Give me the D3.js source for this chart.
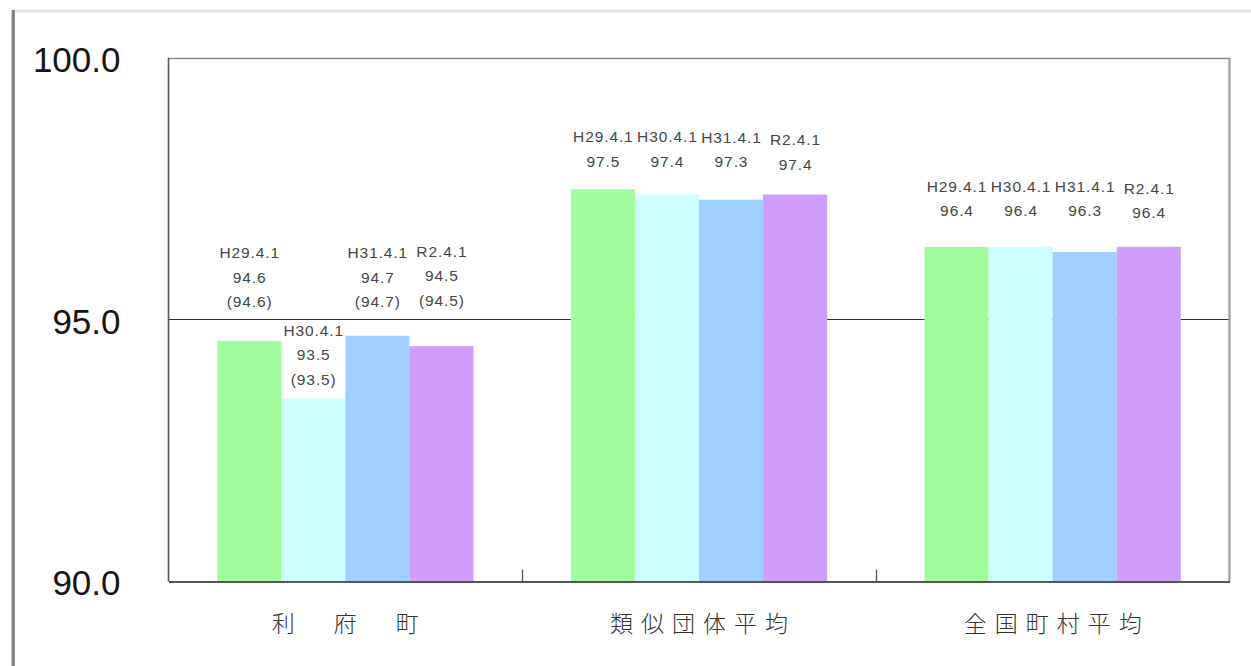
<!DOCTYPE html>
<html>
<head>
<meta charset="utf-8">
<script src="https://cdn.jsdelivr.net/npm/d3@7"></script>
<style>
  html, body { margin: 0; padding: 0; background: #fff; }
  svg { display: block; }
</style>
</head>
<body>
<svg id="chart" width="1251" height="666"></svg>
<script>
// Categories along the horizontal axis
const categories = ["利　府　町", "類似団体平均", "全国町村平均"];
// Survey dates (one bar per date within each category)
const seriesNames = ["H29.4.1", "H30.4.1", "H31.4.1", "R2.4.1"];
// Values per category, in series order
const rifuValues = [94.6, 93.5, 94.7, 94.5];
const rifuParenValues = [94.6, 93.5, 94.7, 94.5];
const ruijiValues = [97.5, 97.4, 97.3, 97.4];
const zenkokuValues = [96.4, 96.4, 96.3, 96.4];
// Axis tick values
const yTicks = [90, 95, 100];

const valuesByCategory = [rifuValues, ruijiValues, zenkokuValues];
const parenByCategory = [rifuParenValues, null, null];

// Colours for each series
const colors = ["#a0fc9c", "#ccffff", "#9ecfff", "#d09cfd"];
// Distance (px) from a bar's top to the centre of its first label line
const labelLift = [
  [88, 68, 83, 95],
  [52.5, 57.5, 62.5, 54.5],
  [60.5, 60.5, 66, 58.5]
];

const svg = d3.select("#chart");
const plot = { left: 168.5, right: 1229.5, top: 58.5, bottom: 581.5 };

const y = d3.scaleLinear().domain([90, 100]).range([plot.bottom, plot.top]);
const x = d3.scaleBand().domain(categories).range([plot.left, plot.right]).padding(0);
const xs = d3.scaleBand().domain(seriesNames)
  .range([0, x.bandwidth()]).paddingInner(0).paddingOuter(0.76);

// Outer panel frame with a soft edge
const defs = svg.append("defs");
defs.append("filter").attr("id", "soft")
  .attr("filterUnits", "userSpaceOnUse")
  .attr("x", 0).attr("y", 0).attr("width", 1251).attr("height", 666)
  .append("feGaussianBlur").attr("stdDeviation", 0.7);

const frame = svg.append("g").attr("filter", "url(#soft)");
frame.append("rect")
  .attr("x", 13).attr("y", 9.5).attr("width", 1238).attr("height", 3)
  .attr("fill", "#e2e2e2");
frame.append("rect")
  .attr("x", 11.5).attr("y", 10).attr("width", 3.5).attr("height", 656)
  .attr("fill", "#9a9a9a");
frame.append("rect")
  .attr("x", 12.5).attr("y", 10).attr("width", 1.6).attr("height", 656)
  .attr("fill", "#7a7a7a");

// Reference line at 95.0
svg.append("line")
  .attr("x1", plot.left).attr("x2", plot.right)
  .attr("y1", Math.round(y(95)) - 0.5).attr("y2", Math.round(y(95)) - 0.5)
  .attr("stroke", "#333").attr("stroke-width", 1.2);

// Bars
const groups = svg.append("g").selectAll("g")
  .data(categories.map((c, i) => ({ c, i })))
  .join("g")
  .attr("transform", d => `translate(${x(d.c)},0)`);

groups.selectAll("rect")
  .data(d => seriesNames.map((s, j) => ({ s, j, v: valuesByCategory[d.i][j] })))
  .join("rect")
  .attr("x", d => xs(d.s))
  .attr("width", xs.bandwidth())
  .attr("y", d => y(d.v))
  .attr("height", d => y(90) - y(d.v))
  .attr("fill", d => colors[d.j]);

// Value labels above the bars
const lineGap = 24.5;
groups.each(function (g) {
  const grp = d3.select(this);
  seriesNames.forEach((s, j) => {
    const v = valuesByCategory[g.i][j];
    const lines = [s, v.toFixed(1)];
    if (parenByCategory[g.i]) lines.push("(" + parenByCategory[g.i][j].toFixed(1) + ")");
    const cx = xs(s) + xs.bandwidth() / 2;
    const firstY = y(v) - labelLift[g.i][j];
    grp.append("text")
      .attr("text-anchor", "middle")
      .attr("font-family", "'Liberation Sans', Arial, sans-serif")
      .attr("font-size", 15.5)
      .attr("letter-spacing", "0.9px")
      .attr("fill", "#444")
      .selectAll("tspan")
      .data(lines)
      .join("tspan")
      .attr("x", cx + 0.45)
      .attr("y", (d, k) => firstY + k * lineGap + 5.5)
      .text(d => d);
  });
});

// Plot frame
svg.append("line").attr("x1", plot.left).attr("x2", plot.right)
  .attr("y1", plot.top).attr("y2", plot.top)
  .attr("stroke", "#8a8a8a").attr("stroke-width", 1.6);
svg.append("line").attr("x1", plot.right).attr("x2", plot.right)
  .attr("y1", plot.top - 0.8).attr("y2", plot.bottom)
  .attr("stroke", "#9a9a9a").attr("stroke-width", 2.2);
svg.append("line").attr("x1", plot.left).attr("x2", plot.left)
  .attr("y1", plot.top - 0.8).attr("y2", plot.bottom)
  .attr("stroke", "#555").attr("stroke-width", 1.6);

// Horizontal axis with category names; ticks mark the category boundaries
const xAxis = svg.append("g")
  .attr("transform", `translate(0,${plot.bottom})`)
  .call(d3.axisBottom(x).tickSize(0).tickPadding(0));
xAxis.select(".domain")
  .attr("stroke", "#555").attr("stroke-width", 2);
xAxis.selectAll(".tick text")
  .attr("font-family", "'Noto Sans CJK JP', sans-serif")
  .attr("font-weight", 300)
  .attr("font-size", 23)
  .attr("letter-spacing", "8px")
  .attr("fill", "#333")
  .attr("dx", "4px")
  .attr("dy", 0)
  .attr("y", 50);

svg.append("g").selectAll("line")
  .data(categories.slice(1))
  .join("line")
  .attr("x1", d => Math.round(x(d)) + 0.5)
  .attr("x2", d => Math.round(x(d)) + 0.5)
  .attr("y1", plot.bottom - 12)
  .attr("y2", plot.bottom)
  .attr("stroke", "#555").attr("stroke-width", 1.3);

// Vertical axis labels
const yAxis = svg.append("g")
  .attr("transform", `translate(${plot.left},0)`)
  .call(d3.axisLeft(y).tickValues(yTicks).tickFormat(d3.format(".1f")).tickSize(0).tickPadding(48));
yAxis.select(".domain").remove();
yAxis.selectAll(".tick text")
  .attr("font-family", "'Liberation Sans', Arial, sans-serif")
  .attr("font-size", 35)
  .attr("fill", "#151515")
  .attr("dy", "0.385em");
</script>
</body>
</html>
